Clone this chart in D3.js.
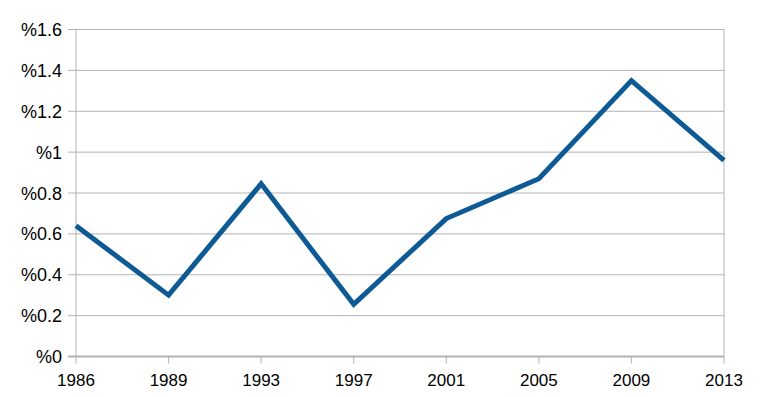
<!DOCTYPE html>
<html><head><meta charset="utf-8">
<script src="https://cdn.jsdelivr.net/npm/d3@7"></script>
<style>body{margin:0;background:#fff;}svg{display:block;}</style>
</head><body><svg id="c" width="760" height="397"></svg>
<script>
const years = ["1986","1989","1993","1997","2001","2005","2009","2013"];
const values = [0.64, 0.30, 0.845, 0.255, 0.675, 0.87, 1.35, 0.96];
const yTicks = [0, 0.2, 0.4, 0.6, 0.8, 1, 1.2, 1.4, 1.6];

const svg = d3.select("#c");
const L = 76, R = 724, T = 29.5, B = 356.5;
const x = d3.scalePoint().domain(years).range([L, R]);
const y = d3.scaleLinear().domain([0, 1.6]).range([B, T]);
const grid = "#b3b3b3";

// horizontal gridlines
svg.append("g").selectAll("line").data(yTicks).join("line")
  .attr("x1", L - 8).attr("x2", R)
  .attr("y1", d => y(d)).attr("y2", d => y(d))
  .attr("stroke", grid).attr("stroke-width", d => d === 0 ? 1.8 : 1);
// vertical borders
[L, R].forEach(px => svg.append("line").attr("x1", px).attr("x2", px).attr("y1", T).attr("y2", B)
  .attr("stroke", grid).attr("stroke-width", 1));
// x ticks
svg.append("g").selectAll("line").data(years).join("line")
  .attr("x1", d => x(d)).attr("x2", d => x(d)).attr("y1", B).attr("y2", B + 7)
  .attr("stroke", grid).attr("stroke-width", 1);

// y labels
svg.append("g").selectAll("text").data(yTicks).join("text")
  .attr("x", 62).attr("y", d => y(d) + 6.5).attr("text-anchor", "end")
  .attr("font-family", "Liberation Sans, Arial, sans-serif").attr("font-size", 18).attr("fill", "#000")
  .text(d => "%" + d3.format("~g")(d));
// x labels
svg.append("g").selectAll("text").data(years).join("text")
  .attr("x", d => x(d)).attr("y", 385.5).attr("text-anchor", "middle")
  .attr("font-family", "Liberation Sans, Arial, sans-serif").attr("font-size", 17).attr("fill", "#000")
  .text(d => d);

// line
const line = d3.line().x((d, i) => x(years[i])).y(d => y(d));
svg.append("path").datum(values).attr("d", line)
  .attr("fill", "none").attr("stroke", "#0d5a95").attr("stroke-width", 5)
  .attr("stroke-linejoin", "miter");
</script></body></html>
